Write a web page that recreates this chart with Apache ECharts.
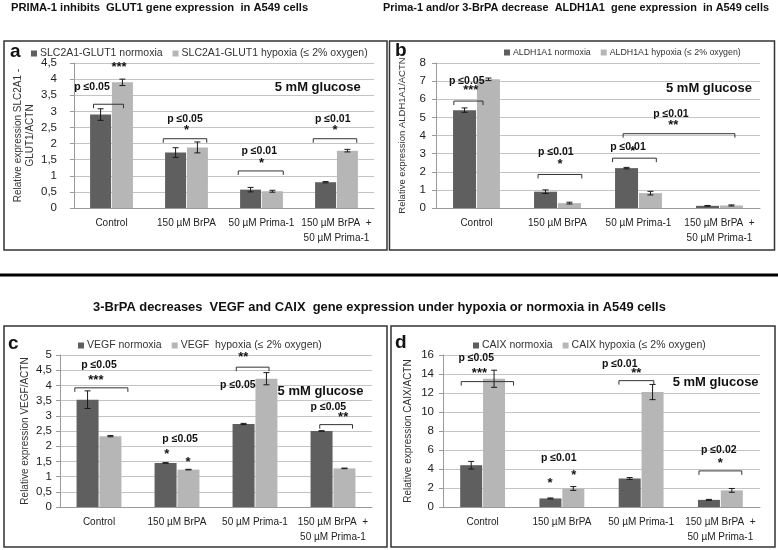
<!DOCTYPE html>
<html><head><meta charset="utf-8">
<script src="https://cdn.jsdelivr.net/npm/echarts@6/dist/echarts.min.js"></script>
<style>html,body{margin:0;padding:0;background:#fff}#c{width:778px;height:550px}</style>
</head><body><div id="c"></div>
<script>
// ---------- data ----------
const categories = ['Control', '150 µM BrPA', '50 µM Prima-1', '150 µM BrPA  +\n50 µM Prima-1'];

const glutNormoxia = [2.9, 1.72, 0.57, 0.8];
const glutNormoxiaErr = [0.18, 0.15, 0.07, 0.02];
const glutHypoxia = [3.9, 1.88, 0.52, 1.78];
const glutHypoxiaErr = [0.1, 0.17, 0.03, 0.04];

const aldhNormoxia = [5.4, 0.9, 2.2, 0.12];
const aldhNormoxiaErr = [0.12, 0.1, 0.04, 0.02];
const aldhHypoxia = [7.1, 0.27, 0.82, 0.14];
const aldhHypoxiaErr = [0.07, 0.05, 0.1, 0.03];

const vegfNormoxia = [3.53, 1.45, 2.73, 2.5];
const vegfNormoxiaErr = [0.29, 0.01, 0.02, 0.01];
const vegfHypoxia = [2.33, 1.23, 4.22, 1.27];
const vegfHypoxiaErr = [0.02, 0.01, 0.2, 0.01];

const caixNormoxia = [4.4, 0.9, 3.0, 0.75];
const caixNormoxiaErr = [0.4, 0.05, 0.1, 0.05];
const caixHypoxia = [13.5, 1.95, 12.1, 1.75];
const caixHypoxiaErr = [0.9, 0.2, 0.8, 0.2];

// significance texts: [text, category, offset (bands), value]
const glutTexts = [['p ≤0.05', 0, -0.26, 3.75], ['***', 0, 0.1, 4.35], ['5 mM glucose', 2, 0.75, 3.75],
  ['p ≤0.05', 1, -0.02, 2.75], ['*', 1, 0, 2.42], ['p ≤0.01', 2, -0.03, 1.78], ['*', 2, 0, 1.38],
  ['p ≤0.01', 3, -0.05, 2.75], ['*', 3, -0.02, 2.42]];
// brackets: [category, offset, half width (bands), value]
const glutBrackets = [[0, -0.04, 0.2, 3.22], [1, -0.02, 0.29, 2.15], [2, -0.01, 0.3, 1.15], [3, -0.02, 0.29, 2.15]];

const aldhTexts = [['p ≤0.05', 0, -0.12, 7.0], ['***', 0, -0.07, 6.5], ['5 mM glucose', 2, 0.87, 6.6],
  ['p ≤0.01', 2, 0.4, 5.2], ['**', 2, 0.43, 4.55], ['p ≤0.01', 1, -0.02, 3.1], ['*', 1, 0.03, 2.4],
  ['p ≤0.01', 2, -0.13, 3.35], ['*', 2, -0.07, 3.1]];
const aldhBrackets = [[0, -0.1, 0.18, 5.9], [2, 0.5, 0.69, 4.1], [1, 0.03, 0.27, 1.85], [2, -0.05, 0.27, 2.75]];

const vegfTexts = [['p ≤0.05', 0, 0, 4.67], ['***', 0, -0.04, 4.16], ['**', 2, -0.15, 4.93],
  ['p ≤0.05', 2, -0.22, 4.02], ['5 mM glucose', 2, 0.84, 3.79], ['p ≤0.05', 3, -0.06, 3.27],
  ['**', 3, 0.13, 2.95], ['p ≤0.05', 1, 0.04, 2.22], ['*', 1, -0.13, 1.73], ['*', 1, 0.14, 1.47]];
const vegfBrackets = [[0, 0.03, 0.34, 3.92], [2, -0.03, 0.21, 4.6], [3, 0.04, 0.21, 2.71]];

const caixTexts = [['p ≤0.05', 0, -0.08, 15.7], ['***', 0, -0.04, 14.1], ['p ≤0.01', 2, -0.27, 15.0],
  ['**', 2, -0.06, 14.1], ['5 mM glucose', 2, 0.94, 13.1], ['p ≤0.02', 3, -0.02, 6.0], ['*', 3, 0, 4.6],
  ['p ≤0.01', 1, -0.04, 5.1], ['*', 1, -0.15, 2.5], ['*', 1, 0.15, 3.35]];
const caixBrackets = [[0, 0.06, 0.33, 13.2], [2, -0.06, 0.22, 13.3], [3, 0, 0.27, 3.8]];

// ---------- chart ----------
const FONT = "'Liberation Sans', Arial, sans-serif";
const DARK = '#5f5f5f', LIGHT = '#b6b6b6';
const GAP = 0.04;

const panels = [
  { grid: {left: 74, top: 63, width: 300, height: 145}, max: 4.5, interval: 0.5, labelMargin: 17, barW: 21,
    yName: 'Relative expression SLC2A1 -\nGLUT1/ACTN', nameGap: 38, nameSize: 10,
    names: ['SLC2A1-GLUT1 normoxia', 'SLC2A1-GLUT1 hypoxia (≤ 2% oxygen)'], legend: {left: 31, top: 48, size: 10.5},
    n: glutNormoxia, ne: glutNormoxiaErr, h: glutHypoxia, he: glutHypoxiaErr, texts: glutTexts, brackets: glutBrackets },
  { grid: {left: 436, top: 63, width: 324, height: 145}, max: 8, interval: 1, labelMargin: 10, barW: 23,
    yName: 'Relative expression ALDH1A1/ACTN', nameGap: 28, nameSize: 9.5,
    names: ['ALDH1A1 normoxia', 'ALDH1A1 hypoxia (≤ 2% oxygen)'], legend: {left: 504, top: 48, size: 8.8},
    n: aldhNormoxia, ne: aldhNormoxiaErr, h: aldhHypoxia, he: aldhHypoxiaErr, texts: aldhTexts, brackets: aldhBrackets },
  { grid: {left: 60, top: 355, width: 312, height: 152}, max: 5, interval: 0.5, labelMargin: 8, barW: 22,
    yName: 'Relative expression VEGF/ACTN', nameGap: 29, nameSize: 10,
    names: ['VEGF normoxia', 'VEGF  hypoxia (≤ 2% oxygen)'], legend: {left: 78, top: 340, size: 10.5},
    n: vegfNormoxia, ne: vegfNormoxiaErr, h: vegfHypoxia, he: vegfHypoxiaErr, texts: vegfTexts, brackets: vegfBrackets },
  { grid: {left: 443, top: 355, width: 317, height: 152}, max: 16, interval: 2, labelMargin: 9, barW: 22,
    yName: 'Relative expression CAIX/ACTN', nameGap: 29, nameSize: 10,
    names: ['CAIX normoxia', 'CAIX hypoxia (≤ 2% oxygen)'], legend: {left: 473, top: 340, size: 10.5},
    n: caixNormoxia, ne: caixNormoxiaErr, h: caixHypoxia, he: caixHypoxiaErr, texts: caixTexts, brackets: caixBrackets }
];

function textFont(t) {
  if (t.charAt(0) === 'p') return 'bold 10.5px ' + FONT;
  return 'bold 13px ' + FONT;
}

function errSeries(gi, vals, errs, side, barW) {
  return {
    type: 'custom', xAxisIndex: gi, yAxisIndex: gi, silent: true, z: 10,
    data: vals.map((v, i) => [i, v, errs[i]]),
    renderItem(params, api) {
      const x = api.value(0), v = api.value(1), e = api.value(2);
      const top = api.coord([x, v + e]), bot = api.coord([x, v - e]);
      const cx = top[0] + side * barW * (1 + GAP) / 2;
      const st = {stroke: '#1a1a1a', lineWidth: 1};
      return {type: 'group', children: [
        {type: 'line', shape: {x1: cx, y1: top[1], x2: cx, y2: bot[1]}, style: st},
        {type: 'line', shape: {x1: cx - 3, y1: top[1], x2: cx + 3, y2: top[1]}, style: st},
        {type: 'line', shape: {x1: cx - 3, y1: bot[1], x2: cx + 3, y2: bot[1]}, style: st}
      ]};
    }
  };
}

function annotSeries(gi, texts, brackets) {
  const items = texts.map(d => ({k: 0, d})).concat(brackets.map(d => ({k: 1, d})));
  return {
    type: 'custom', xAxisIndex: gi, yAxisIndex: gi, silent: true, z: 20, clip: false,
    data: items.map(it => it.k === 0 ? [it.d[1], it.d[3]] : [it.d[0], it.d[3]]),
    renderItem(params, api) {
      const it = items[params.dataIndex];
      const band = api.size([1, 0])[0];
      if (it.k === 0) {
        const [txt, c, dx, y] = it.d;
        const p = api.coord([c, y]);
        return {type: 'text', style: {text: txt, x: p[0] + dx * band, y: p[1], align: 'center',
          verticalAlign: 'middle', font: textFont(txt), fill: '#111'}};
      }
      const [c, dx, hw, y] = it.d;
      const p = api.coord([c, y]);
      const x0 = p[0] + (dx - hw) * band, x1 = p[0] + (dx + hw) * band;
      return {type: 'polyline', shape: {points: [[x0, p[1] + 4], [x0, p[1]], [x1, p[1]], [x1, p[1] + 4]]},
        style: {stroke: '#333', lineWidth: 1, fill: null}};
    }
  };
}

const option = {
  animation: false,
  backgroundColor: '#fff',
  grid: panels.map(p => p.grid),
  legend: panels.map(p => ({
    left: p.legend.left, top: p.legend.top, width: 400, data: p.names, icon: 'rect', itemWidth: 6, itemHeight: 6,
    itemGap: 10, selectedMode: false, padding: 0,
    textStyle: {fontFamily: FONT, fontSize: p.legend.size, color: '#333', padding: [0, 0, 0, -2]}
  })),
  xAxis: panels.map((p, i) => ({
    type: 'category', gridIndex: i, data: categories,
    axisLine: {lineStyle: {color: '#9a9a9a'}}, axisTick: {show: false},
    axisLabel: {interval: 0, fontFamily: FONT, fontSize: 10, color: '#222', margin: 8, lineHeight: 15}
  })),
  yAxis: panels.map((p, i) => ({
    type: 'value', gridIndex: i, min: 0, max: p.max, interval: p.interval,
    name: p.yName, nameLocation: 'middle', nameGap: p.nameGap, nameRotate: 90,
    nameTextStyle: {fontFamily: FONT, fontSize: p.nameSize, color: '#333', lineHeight: 12},
    axisLine: {show: true, lineStyle: {color: '#9a9a9a'}},
    axisTick: {show: true, length: 4, lineStyle: {color: '#9a9a9a'}},
    splitLine: {lineStyle: {color: '#c4c4c4'}},
    axisLabel: {fontFamily: FONT, fontSize: 11.5, color: '#222', margin: p.labelMargin,
      formatter: v => String(v).replace('.', ',')}
  })),
  series: panels.flatMap((p, i) => [
    {name: p.names[0], type: 'bar', xAxisIndex: i, yAxisIndex: i, data: p.n, barWidth: p.barW,
      barGap: (GAP * 100) + '%', itemStyle: {color: DARK}},
    {name: p.names[1], type: 'bar', xAxisIndex: i, yAxisIndex: i, data: p.h, barWidth: p.barW,
      barGap: (GAP * 100) + '%', itemStyle: {color: LIGHT}},
    errSeries(i, p.n, p.ne, -1, p.barW),
    errSeries(i, p.h, p.he, 1, p.barW),
    annotSeries(i, p.texts, p.brackets)
  ]),
  graphic: [
    {type: 'text', left: 11, top: 2, style: {text: 'PRIMA-1 inhibits  GLUT1 gene expression  in A549 cells',
      font: 'bold 11.2px ' + FONT, fill: '#111'}},
    {type: 'text', left: 383, top: 2, style: {text: 'Prima-1 and/or 3-BrPA decrease  ALDH1A1  gene expression  in A549 cells',
      font: 'bold 10.9px ' + FONT, fill: '#111'}},
    {type: 'text', left: 93, top: 301, style: {text: '3-BrPA decreases  VEGF and CAIX  gene expression under hypoxia or normoxia in A549 cells',
      font: 'bold 12.9px ' + FONT, fill: '#111'}},
    {type: 'rect', shape: {x: 0, y: 273.5, width: 778, height: 3}, style: {fill: '#000'}},
    {type: 'rect', shape: {x: 4, y: 41, width: 383, height: 209}, style: {fill: null, stroke: '#333', lineWidth: 1.5}},
    {type: 'rect', shape: {x: 389.5, y: 41, width: 385, height: 209}, style: {fill: null, stroke: '#333', lineWidth: 1.5}},
    {type: 'rect', shape: {x: 4, y: 326, width: 383, height: 221}, style: {fill: null, stroke: '#333', lineWidth: 1.5}},
    {type: 'rect', shape: {x: 391, y: 326, width: 384, height: 221}, style: {fill: null, stroke: '#333', lineWidth: 1.5}},
    {type: 'text', left: 10, top: 42, style: {text: 'a', font: 'bold 19px ' + FONT, fill: '#111'}},
    {type: 'text', left: 395, top: 41, style: {text: 'b', font: 'bold 19px ' + FONT, fill: '#111'}},
    {type: 'text', left: 8, top: 334, style: {text: 'c', font: 'bold 19px ' + FONT, fill: '#111'}},
    {type: 'text', left: 395, top: 333, style: {text: 'd', font: 'bold 19px ' + FONT, fill: '#111'}}
  ]
};

const chart = echarts.init(document.getElementById('c'), null, {renderer: 'canvas'});
chart.setOption(option);
</script></body></html>
